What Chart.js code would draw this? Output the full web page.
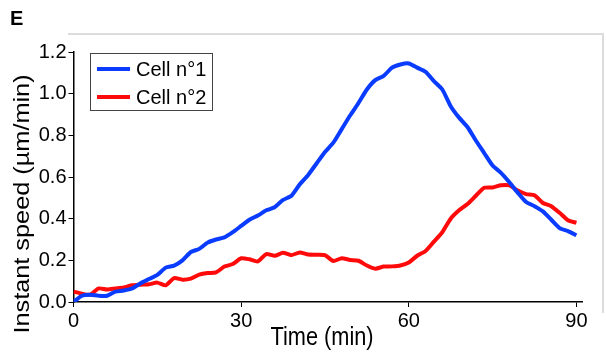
<!DOCTYPE html>
<html>
<head>
<meta charset="utf-8">
<script src="https://cdn.jsdelivr.net/npm/chart.js@4.4.1/dist/chart.umd.min.js"></script>
<style>
  body { margin: 0; background: #fff; }
  #wrap { width: 606px; height: 352px; }
</style>
</head>
<body>
<div id="wrap"><canvas id="speedChart" width="606" height="352"></canvas></div>
<script>
// time points (min)
const times = [0, 1.5, 3, 4.5, 6, 7.5, 9, 10.5, 12, 13.5, 15, 16.5, 18, 19.5, 21, 22.5, 24, 25.5, 27, 28.5,
  30, 31.5, 33, 34.5, 36, 37.5, 39, 40.5, 42, 43.5, 45, 46.5, 48, 49.5, 51, 52.5, 54, 55.5, 57, 58.5,
  60, 61.5, 63, 64.5, 66, 67.5, 69, 70.5, 72, 73.5, 75, 76.5, 78, 79.5, 81, 82.5, 84, 85.5, 87, 88.5, 90];

// instant speed (um/min)
const cell1 = [0.00, 0.03, 0.035, 0.03, 0.03, 0.05, 0.055, 0.065, 0.09, 0.11, 0.13, 0.165, 0.175, 0.20, 0.24, 0.255, 0.285, 0.30, 0.31, 0.335,
  0.365, 0.395, 0.415, 0.44, 0.455, 0.49, 0.51, 0.565, 0.61, 0.665, 0.72, 0.765, 0.83, 0.895, 0.955, 1.02, 1.065, 1.085, 1.125, 1.14,
  1.145, 1.125, 1.105, 1.06, 1.02, 0.94, 0.885, 0.84, 0.775, 0.715, 0.655, 0.62, 0.575, 0.525, 0.48, 0.46, 0.435, 0.395, 0.355, 0.34, 0.32];
const cell2 = [0.05, 0.04, 0.035, 0.065, 0.06, 0.065, 0.07, 0.08, 0.083, 0.085, 0.093, 0.08, 0.115, 0.107, 0.112, 0.131, 0.139, 0.142, 0.17, 0.182,
  0.21, 0.205, 0.195, 0.23, 0.222, 0.236, 0.225, 0.238, 0.228, 0.227, 0.225, 0.197, 0.21, 0.202, 0.198, 0.175, 0.16, 0.17, 0.171, 0.175,
  0.19, 0.222, 0.245, 0.29, 0.335, 0.40, 0.44, 0.47, 0.51, 0.548, 0.55, 0.56, 0.56, 0.535, 0.518, 0.512, 0.475, 0.46, 0.428, 0.392, 0.38];

const seriesLabels = ['Cell n°1', 'Cell n°2'];
const xTicks = [0, 30, 60, 90];
const yTicks = [0, 0.2, 0.4, 0.6, 0.8, 1.0, 1.2];

const FONT = "'Liberation Sans', Arial, sans-serif";
const BLUE = '#0a3cff';
const RED = '#ff0a0a';

// extra drawing: panel letter, axis titles, legend box, faint frame
const decor = {
  id: 'decor',
  afterDraw(chart) {
    const ctx = chart.ctx;
    ctx.save();

    // faint frame (top and right only)
    ctx.strokeStyle = '#dcdcdc';
    ctx.lineWidth = 2;
    ctx.beginPath();
    ctx.moveTo(68, 34);
    ctx.lineTo(603, 34);
    ctx.lineTo(603, 313);
    ctx.stroke();

    ctx.fillStyle = '#000';
    ctx.font = 'bold 20px ' + FONT;
    ctx.textBaseline = 'alphabetic';
    ctx.fillText('E', 10, 25);

    // x title
    ctx.save();
    ctx.translate(322, 345);
    ctx.scale(0.87, 1);
    ctx.font = '25px ' + FONT;
    ctx.textAlign = 'center';
    ctx.fillText('Time (min)', 0, 0);
    ctx.restore();

    // y title
    ctx.save();
    ctx.translate(29, 204);
    ctx.rotate(-Math.PI / 2);
    ctx.scale(1.15, 1);
    ctx.font = '22px ' + FONT;
    ctx.textAlign = 'center';
    ctx.fillText('Instant speed (\u00b5m/min)', 0, 0);
    ctx.restore();

    // legend
    ctx.fillStyle = '#fff';
    ctx.fillRect(90, 53, 123, 58);
    ctx.strokeStyle = '#444';
    ctx.lineWidth = 1;
    ctx.strokeRect(90.5, 53.5, 122, 57);
    chart.data.datasets.forEach((ds, i) => {
      const y = 69 + i * 28;
      ctx.strokeStyle = ds.borderColor;
      ctx.lineWidth = 4;
      ctx.beginPath();
      ctx.moveTo(97, y);
      ctx.lineTo(130, y);
      ctx.stroke();
      ctx.fillStyle = '#000';
      ctx.font = '20px ' + FONT;
      ctx.textAlign = 'left';
      ctx.textBaseline = 'alphabetic';
      ctx.fillText(ds.label, 136, y + 6.5);
    });
    ctx.restore();
  }
};

const toPoints = (vals) => times.map((t, i) => ({ x: t, y: vals[i] }));

const chart = new Chart(document.getElementById('speedChart'), {
  type: 'line',
  data: {
    datasets: [
      { label: seriesLabels[0], data: toPoints(cell1), borderColor: BLUE, borderWidth: 4, pointRadius: 0, tension: 0.2, borderJoinStyle: 'round' },
      { label: seriesLabels[1], data: toPoints(cell2), borderColor: RED, borderWidth: 4, pointRadius: 0, tension: 0.2, borderJoinStyle: 'round' }
    ]
  },
  options: {
    responsive: false,
    animation: false,
    layout: { padding: { top: 52, right: 24, left: 0, bottom: 0 } },
    plugins: { legend: { display: false }, tooltip: { enabled: false } },
    scales: {
      x: {
        type: 'linear',
        min: 0,
        max: 91,
        afterBuildTicks: (s) => { s.ticks = xTicks.map(v => ({ value: v })); },
        afterFit: (s) => { s.height = 50; },
        grid: { drawOnChartArea: false, tickLength: 5, color: '#000' },
        border: { color: '#000', width: 1.5 },
        ticks: { color: '#000', font: { family: FONT, size: 20 }, padding: 2, maxRotation: 0 }
      },
      y: {
        min: 0,
        max: 1.2,
        afterBuildTicks: (s) => { s.ticks = yTicks.map(v => ({ value: v })); },
        afterFit: (s) => { s.width = 73.5; },
        grid: { drawOnChartArea: false, tickLength: 5, color: '#000' },
        border: { color: '#000', width: 1.5 },
        ticks: { color: '#000', font: { family: FONT, size: 20 }, padding: 2, callback: (v) => v.toFixed(1) }
      }
    }
  },
  plugins: [decor]
});
</script>
</body>
</html>
